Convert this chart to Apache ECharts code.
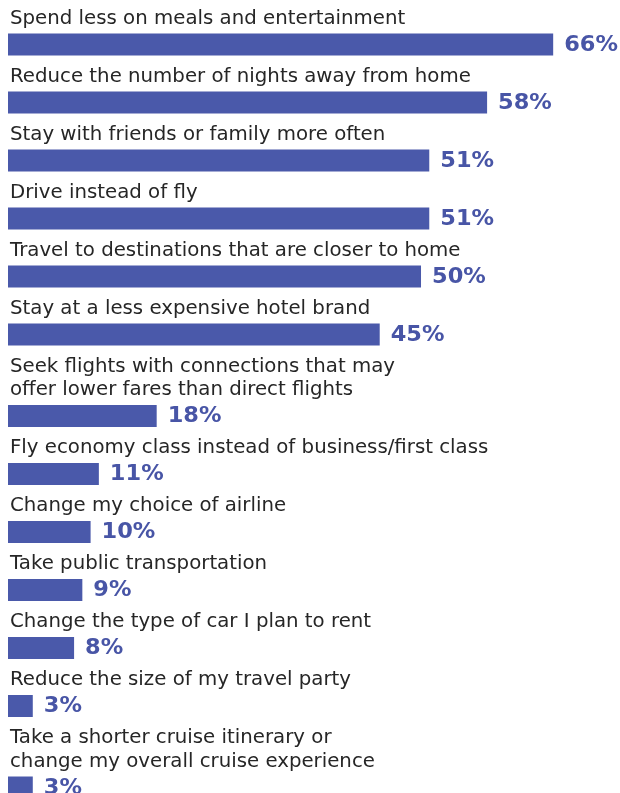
<!DOCTYPE html>
<html>
<head>
<meta charset="utf-8">
<style>
  html, body { margin: 0; padding: 0; background: #ffffff; }
  #chart { width: 620px; height: 793px; }
</style>
<script src="https://cdn.jsdelivr.net/npm/echarts@6/dist/echarts.min.js"></script>
</head>
<body>
<div id="chart"></div>
<script>
// Survey answers: ways travellers plan to cut trip costs
const categories = [
  'Spend less on meals and entertainment',
  'Reduce the number of nights away from home',
  'Stay with friends or family more often',
  'Drive instead of fly',
  'Travel to destinations that are closer to home',
  'Stay at a less expensive hotel brand',
  'Seek flights with connections that may\noffer lower fares than direct flights',
  'Fly economy class instead of business/first class',
  'Change my choice of airline',
  'Take public transportation',
  'Change the type of car I plan to rent',
  'Reduce the size of my travel party',
  'Take a shorter cruise itinerary or\nchange my overall cruise experience'
];
const values = [66, 58, 51, 51, 50, 45, 18, 11, 10, 9, 8, 3, 3];

// Vertical layout (in axis units = pixels of the plot height)
const FIRST_LINE = 18;   // centre of the first label line
const LINE = 23.5;       // label line height
const LABEL_TO_BAR = 26.5; // last label line centre -> bar centre
const BAR_TO_NEXT = 31.5;  // bar centre -> next label line centre
const BAR_H = 22;

const rows = [];
let cursor = FIRST_LINE;
categories.forEach(function (name, i) {
  const lines = name.split('\n');
  const barY = cursor + (lines.length - 1) * LINE + LABEL_TO_BAR;
  rows.push([values[i], barY, i]);
  cursor = barY + BAR_TO_NEXT;
});

const BAR_COLOR = '#4a59aa';
const VALUE_COLOR = '#4855a6';
const TEXT_COLOR = '#262626';

const chart = echarts.init(document.getElementById('chart'));
chart.setOption({
  backgroundColor: '#ffffff',
  animation: false,
  grid: { left: 8, right: 9, top: 0, bottom: 0 },
  xAxis: { type: 'value', min: 0, max: 73, show: false },
  yAxis: { type: 'value', min: 0, max: 793, inverse: true, show: false },
  series: [{
    type: 'custom',
    data: rows,
    clip: false,
    renderItem: function (params, api) {
      const v = api.value(0);
      const y = api.value(1);
      const idx = api.value(2);
      const start = api.coord([0, y]);
      const end = api.coord([v, y]);
      const h = api.size([0, BAR_H])[1];
      const lineH = api.size([0, LINE])[1];
      const gap = api.size([0, LABEL_TO_BAR])[1];
      const lines = categories[idx].split('\n');
      const children = [{
        type: 'rect',
        shape: { x: start[0], y: start[1] - h / 2, width: end[0] - start[0], height: h },
        style: { fill: BAR_COLOR }
      }, {
        type: 'text',
        x: end[0] + 11,
        y: end[1] + 1,
        scaleX: 1.07,
        style: {
          text: v + '%',
          fill: VALUE_COLOR,
          font: 'bold 21px "DejaVu Sans"',
          verticalAlign: 'middle',
          align: 'left'
        }
      }];
      lines.forEach(function (t, k) {
        children.push({
          type: 'text',
          x: start[0] + 2,
          y: start[1] - gap - (lines.length - 1 - k) * lineH + 1,
          scaleX: 1.04,
          style: {
            text: t,
            fill: TEXT_COLOR,
            font: '19px "DejaVu Sans"',
            verticalAlign: 'middle',
            align: 'left'
          }
        });
      });
      return { type: 'group', children: children };
    }
  }]
});
</script>
</body>
</html>
